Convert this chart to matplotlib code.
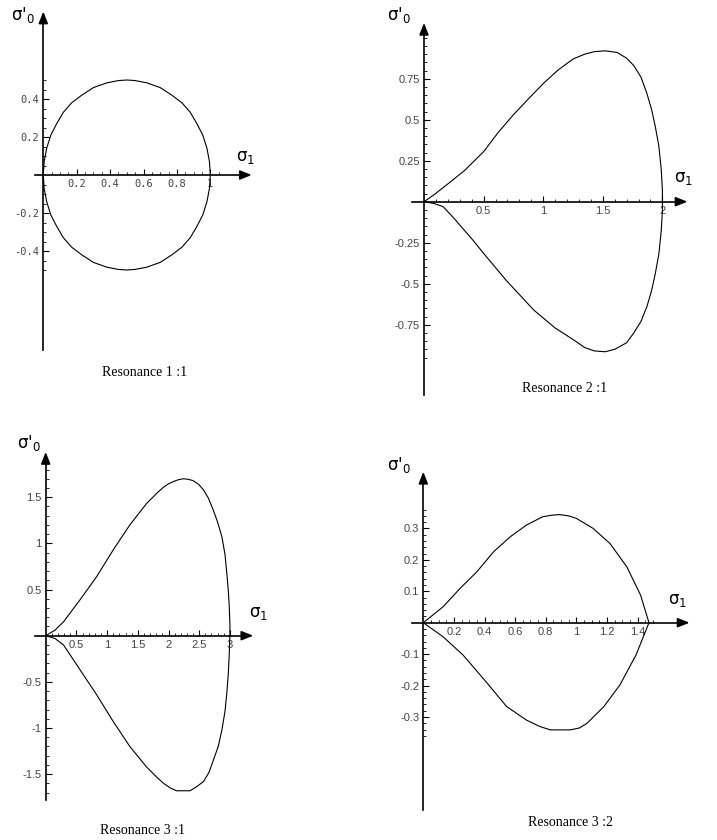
import numpy as np
import matplotlib
matplotlib.use("Agg")
import matplotlib.pyplot as plt
from matplotlib.ticker import FixedLocator, FixedFormatter

plt.rcParams['mathtext.fontset'] = 'custom'
plt.rcParams['mathtext.rm'] = 'DejaVu Sans'
plt.rcParams['mathtext.it'] = 'DejaVu Sans'
plt.rcParams['mathtext.bf'] = 'DejaVu Sans:bold'

# ---------------- data ----------------
# Resonance 1:1
r11_x = [0, 0.005, 0.02, 0.045, 0.08, 0.12, 0.17, 0.23, 0.3, 0.38, 0.45, 0.5,
         0.55, 0.62, 0.7, 0.77, 0.83, 0.88, 0.92, 0.955, 0.98, 0.995, 1.0]
r11_up = [0, 0.07, 0.14, 0.21, 0.27, 0.33, 0.38, 0.42, 0.46, 0.485, 0.497, 0.5,
          0.497, 0.485, 0.46, 0.42, 0.38, 0.33, 0.27, 0.21, 0.14, 0.07, 0]
r11_lo = [0, -0.07, -0.14, -0.21, -0.27, -0.33, -0.38, -0.42, -0.46, -0.485, -0.497, -0.5,
          -0.497, -0.485, -0.46, -0.42, -0.38, -0.33, -0.27, -0.21, -0.14, -0.07, 0]

# Resonance 2:1
r21_up_x = [0, 0.08, 0.22, 0.34, 0.5, 0.62, 0.75, 0.88, 1.0, 1.12, 1.25, 1.35, 1.43, 1.52, 1.62,
            1.7, 1.76, 1.82, 1.87, 1.91, 1.94, 1.97, 1.99, 2.0, 2.0]
r21_up_y = [0, 0.04, 0.12, 0.19, 0.305, 0.42, 0.53, 0.63, 0.72, 0.8, 0.87, 0.9, 0.915, 0.92, 0.91,
            0.875, 0.83, 0.76, 0.66, 0.56, 0.46, 0.34, 0.2, 0.07, 0]
r21_lo_x = [0, 0.08, 0.16, 0.25, 0.41, 0.5, 0.69, 0.92, 1.1, 1.25, 1.35, 1.43, 1.52, 1.6,
            1.7, 1.76, 1.82, 1.87, 1.91, 1.94, 1.97, 1.99, 2.0, 2.0]
r21_lo_y = [0, -0.01, -0.03, -0.1, -0.234, -0.315, -0.48, -0.66, -0.77, -0.84, -0.89, -0.91, -0.915, -0.9,
            -0.86, -0.8, -0.73, -0.64, -0.54, -0.44, -0.32, -0.18, -0.06, 0]

# Resonance 3:1
r31_up_x = [0, 0.15, 0.29, 0.56, 0.83, 1.10, 1.37, 1.64, 1.82, 1.92, 2.0, 2.08, 2.16, 2.24, 2.32,
            2.40, 2.49, 2.57, 2.65, 2.73, 2.80, 2.87, 2.92, 2.95, 2.975, 2.99, 3.0, 3.0]
r31_up_y = [0, 0.06, 0.15, 0.39, 0.64, 0.93, 1.20, 1.43, 1.55, 1.61, 1.645, 1.67, 1.69, 1.70, 1.695,
            1.68, 1.64, 1.58, 1.49, 1.36, 1.23, 1.07, 0.88, 0.675, 0.48, 0.31, 0.12, 0]
r31_lo_x = [0, 0.15, 0.29, 0.56, 0.83, 1.10, 1.37, 1.64, 1.82, 1.92, 2.03, 2.13, 2.35, 2.45,
            2.57, 2.66, 2.73, 2.81, 2.87, 2.92, 2.95, 2.975, 2.99, 3.0]
r31_lo_y = [0, -0.03, -0.10, -0.37, -0.64, -0.93, -1.20, -1.42, -1.54, -1.60, -1.65, -1.68, -1.68, -1.64,
            -1.58, -1.48, -1.35, -1.2, -1.02, -0.82, -0.62, -0.4, -0.19, 0]

# Resonance 3:2
r32_up_x = [0, 0.13, 0.24, 0.35, 0.46, 0.57, 0.675, 0.78, 0.84, 0.89, 0.95, 1.0, 1.11, 1.22,
            1.33, 1.42, 1.475]
r32_up_y = [0, 0.051, 0.109, 0.162, 0.226, 0.274, 0.311, 0.337, 0.342, 0.344, 0.34, 0.332, 0.300, 0.252,
            0.178, 0.088, 0]
r32_lo_x = [0, 0.13, 0.26, 0.41, 0.545, 0.675, 0.76, 0.83, 0.96, 1.02, 1.07, 1.18, 1.285, 1.39, 1.475]
r32_lo_y = [0, -0.045, -0.103, -0.188, -0.267, -0.31, -0.33, -0.341, -0.341, -0.335, -0.32, -0.267,
            -0.198, -0.103, 0]

titles = ["Resonance 1 :1", "Resonance 2 :1", "Resonance 3 :1", "Resonance 3 :2"]

# ---------------- layout ----------------
W, H = 717, 840
fig = plt.figure(figsize=(W / 100, H / 100), dpi=100)


def make_panel(box, origin, scale, xext, yext, xmaj, xmin, ymaj, ymin,
               xlabels, ylabels, curves, title, title_px, s0_px, s1_px, tickfont):
    left, top, right, bottom = box
    ox, oy = origin
    sx, sy = scale
    ax = fig.add_axes([left / W, 1 - bottom / H, (right - left) / W, (bottom - top) / H])
    ax.patch.set_alpha(0)
    ax.set_xlim((left - ox) / sx, (right - ox) / sx)
    ax.set_ylim((oy - bottom) / sy, (oy - top) / sy)
    for s in ('top', 'right'):
        ax.spines[s].set_visible(False)
    ax.spines['left'].set_position(('data', 0))
    ax.spines['bottom'].set_position(('data', 0))
    ax.spines['left'].set_linewidth(1.2)
    ax.spines['bottom'].set_linewidth(1.2)
    ax.spines['bottom'].set_bounds(xext[0], xext[1] - 6 / sx)
    ax.spines['left'].set_bounds(yext[0], yext[1] - 6 / sy)

    ax.xaxis.set_major_locator(FixedLocator(xmaj))
    ax.xaxis.set_major_formatter(FixedFormatter(xlabels))
    ax.xaxis.set_minor_locator(FixedLocator(xmin))
    ax.yaxis.set_major_locator(FixedLocator(ymaj))
    ax.yaxis.set_major_formatter(FixedFormatter(ylabels))
    ax.yaxis.set_minor_locator(FixedLocator(ymin))
    ax.tick_params(which='major', direction='in', length=4, width=0.8, pad=3,
                   labelsize=tickfont[1], labelcolor='#444444')
    ax.tick_params(which='minor', direction='in', length=2, width=0.6)
    for lab in ax.get_xticklabels() + ax.get_yticklabels():
        lab.set_family(tickfont[0])

    # arrow heads
    ap = dict(arrowstyle='-|>,head_length=0.7,head_width=0.28', color='black',
              lw=1.2, shrinkA=0, shrinkB=0)
    ax.annotate('', xy=(xext[1], 0), xytext=(xext[1] - 10 / sx, 0), arrowprops=ap)
    ax.annotate('', xy=(0, yext[1]), xytext=(0, yext[1] - 10 / sy), arrowprops=ap)

    for cx, cy in curves:
        ax.plot(cx, cy, color='black', lw=0.8, clip_on=False)

    fig.text(title_px[0] / W, 1 - title_px[1] / H, title, ha='center', va='center',
             family='Liberation Serif', fontsize=10)
    fig.text(s0_px[0] / W, 1 - s0_px[1] / H, r"$\sigma$'$_0$", ha='center', va='center',
             fontsize=12)
    fig.text(s1_px[0] / W, 1 - s1_px[1] / H, r"$\sigma_1$", ha='center', va='center',
             fontsize=12)
    return ax


def minors(a, b, step, majors):
    vals = np.round(np.arange(a, b + step / 2, step), 4)
    return [v for v in vals if v != 0 and not any(abs(v - m) < 1e-6 for m in majors)]


# Panel 1
xm = [0.2, 0.4, 0.6, 0.8, 1.0]
ym = [-0.4, -0.2, 0.2, 0.4]
make_panel((0, 0, 358, 410), (43.3, 175), (167, 190), (-0.05, 1.248), (-0.92, 0.86),
           xm, minors(0.05, 1.05, 0.05, xm), ym, minors(-0.5, 0.5, 0.05, ym),
           ["0.2", "0.4", "0.6", "0.8", "1"], ["-0.4", "-0.2", "0.2", "0.4"],
           [(r11_x, r11_up), (r11_x, r11_lo)], titles[0], (145, 373), (23, 15), (245, 157),
           ('DejaVu Sans Mono', 7.5))

# Panel 2
xm = [0.5, 1.0, 1.5, 2.0]
ym = [-0.75, -0.5, -0.25, 0.25, 0.5, 0.75]
make_panel((358, 0, 717, 410), (424, 201.7), (119.2, 164), (-0.10, 2.21), (-1.18, 1.09),
           xm, minors(0.1, 2.05, 0.1, xm), ym, minors(-0.95, 1.0, 0.05, ym),
           ["0.5", "1", "1.5", "2"], ["-0.75", "-0.5", "-0.25", "0.25", "0.5", "0.75"],
           [(r21_up_x, r21_up_y), (r21_lo_x, r21_lo_y)], titles[1], (565, 388), (399, 15), (683, 178),
           ('Liberation Sans', 8))

# Panel 3
xm = [0.5, 1.0, 1.5, 2.0, 2.5, 3.0]
ym = [-1.5, -1.0, -0.5, 0.5, 1.0, 1.5]
make_panel((0, 410, 358, 840), (45.7, 635.7), (61.4, 92.3), (-0.17, 3.38), (-1.78, 1.99),
           xm, minors(0.1, 3.0, 0.1, xm), ym, minors(-1.7, 1.8, 0.1, ym),
           ["0.5", "1", "1.5", "2", "2.5", "3"], ["-1.5", "-1", "-0.5", "0.5", "1", "1.5"],
           [(r31_up_x, r31_up_y), (r31_lo_x, r31_lo_y)], titles[2], (142, 831), (29, 443), (258, 613),
           ('Liberation Sans', 8))

# Panel 4
xm = [0.2, 0.4, 0.6, 0.8, 1.0, 1.2, 1.4]
ym = [-0.3, -0.2, -0.1, 0.1, 0.2, 0.3]
make_panel((358, 410, 717, 840), (423.3, 622.7), (153, 314.3), (-0.076, 1.74), (-0.596, 0.48),
           xm, minors(0.05, 1.5, 0.05, xm), ym, minors(-0.36, 0.36, 0.02, ym),
           ["0.2", "0.4", "0.6", "0.8", "1", "1.2", "1.4"], ["-0.3", "-0.2", "-0.1", "0.1", "0.2", "0.3"],
           [(r32_up_x, r32_up_y), (r32_lo_x, r32_lo_y)], titles[3], (570, 822), (399, 465), (677, 600),
           ('Liberation Sans', 8))

fig.savefig("out.png", dpi=100)
